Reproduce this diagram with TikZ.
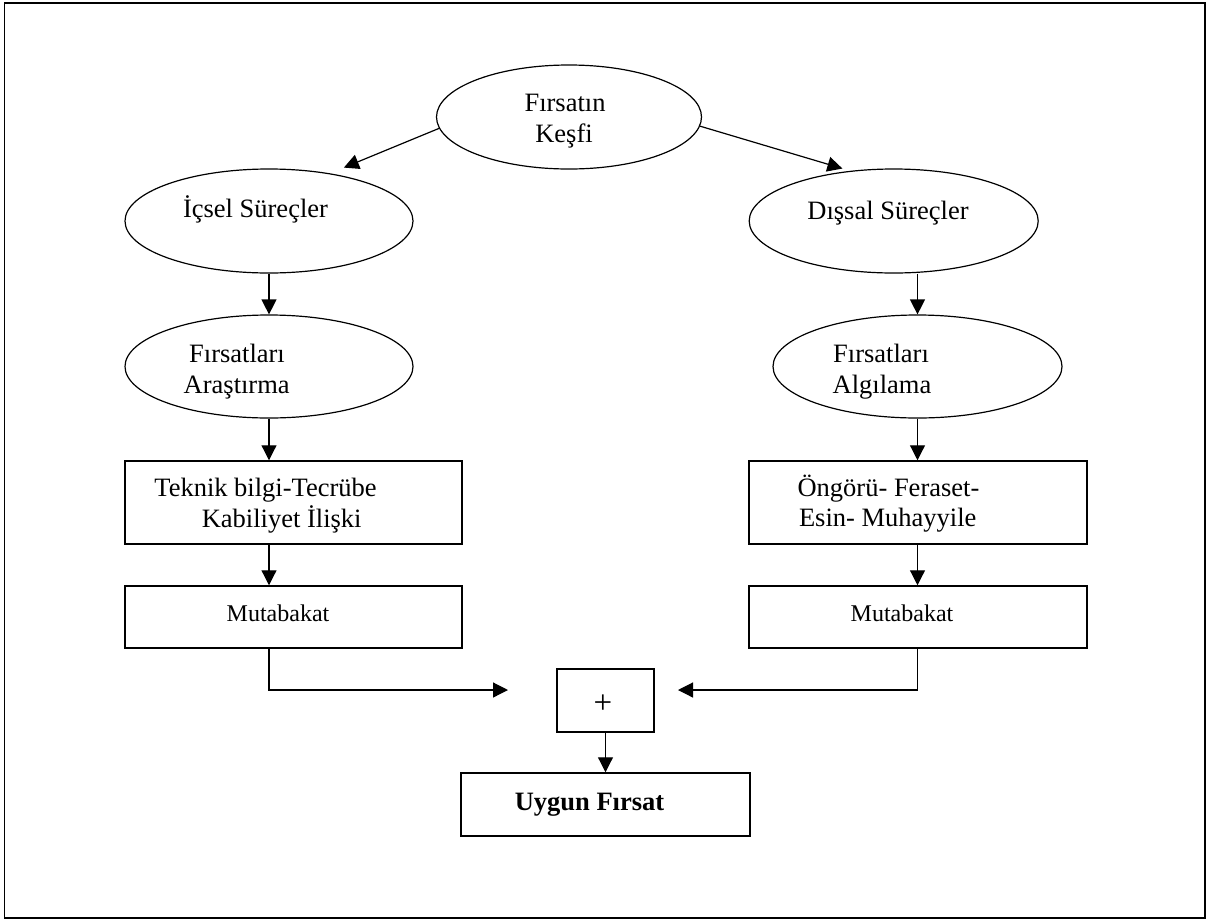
\documentclass[tikz,border=0pt]{standalone}
\usepackage{fontspec}
\setmainfont{Liberation Serif}
\usetikzlibrary{shapes.geometric,arrows.meta}
\begin{document}
\begin{tikzpicture}[x=1pt,y=-1pt,
  ell/.style={draw,ellipse,line width=1.2pt,inner sep=0pt},
  boxn/.style={draw,rectangle,line width=1.5pt,inner sep=0pt},
  txt/.style={anchor=base,inner sep=0pt,font=\fontsize{26.5}{30}\selectfont},
  smalltxt/.style={anchor=base,inner sep=0pt,font=\fontsize{24}{28}\selectfont},
  arr/.style={line width=1.2pt,-{Triangle[length=15pt,width=15pt]}}
]
\useasboundingbox (0,0) rectangle (1208,919);
\draw[line width=1.5pt] (4.5,3) rectangle (1205,918);

% shapes
\node[ell,minimum width=265pt,minimum height=104pt] (top) at (569,117) {};
\node[ell,minimum width=288pt,minimum height=104pt] (ic) at (269,221) {};
\node[ell,minimum width=289pt,minimum height=104pt] (ds) at (893.7,221) {};
\node[ell,minimum width=288pt,minimum height=103pt] (ar) at (269,366.5) {};
\node[ell,minimum width=289pt,minimum height=103pt] (al) at (917.5,366.5) {};
\node[boxn,minimum width=337pt,minimum height=83pt] (tek) at (293.5,502.5) {};
\node[boxn,minimum width=338pt,minimum height=83pt] (ong) at (918,502.5) {};
\node[boxn,minimum width=337pt,minimum height=62pt] (mutL) at (293.5,617) {};
\node[boxn,minimum width=338pt,minimum height=62pt] (mutR) at (918,617) {};
\node[boxn,minimum width=97pt,minimum height=63pt] (plus) at (605.5,700.5) {};
\node[boxn,minimum width=289pt,minimum height=63pt] (uyg) at (605.5,804.5) {};

% texts
\node[txt] (t1a) at (565,111.7) {Fırsatın};
\node[txt] (t1b) at (564,142) {Keşfi};
\node[txt] (t2) at (255.5,217.7) {İçsel Süreçler};
\node[txt] (t3) at (888,219.3) {Dışsal Süreçler};
\node[txt] (t4a) at (237,362.7) {Fırsatları};
\node[txt] (t4b) at (236.7,393.3) {Araştırma};
\node[txt,anchor=base west] (t5a) at (833,362.7) {Fırsatları};
\node[txt,anchor=base west] (t5b) at (832.5,393.3) {Algılama};
\node[txt] (t6a) at (265.5,496.7) {Teknik bilgi-Tecrübe};
\node[txt] (t6b) at (281.7,527.7) {Kabiliyet İlişki};
\node[txt,anchor=base west] (t7a) at (797.4,496.7) {Öngörü- Feraset-};
\node[txt,anchor=base west] (t7b) at (798.8,526.7) {Esin- Muhayyile};
\node[smalltxt] (t8) at (278,621.7) {Mutabakat};
\node[smalltxt] (t9) at (902,621.7) {Mutabakat};
\node[inner sep=0pt,font=\fontsize{33}{36}\selectfont] (t10) at (603,703.7) {+};
\node[txt,font=\bfseries\fontsize{26.5}{30}\selectfont] (t11) at (589.5,810) {Uygun Fırsat};

% free ends
\coordinate (jl) at (508,690);
\coordinate (jr) at (678,690);

% connectors
\draw[arr,shorten >=15pt] (top.185) -- (ic.38);
\draw[arr,shorten >=8pt] (top.356) -- (ds.131);
\draw[arr] (ic.south) -- (ar.north);
\draw[arr] (ar.south) -- (ar.south |- tek.north);
\draw[arr] (ar.south |- tek.south) -- (ar.south |- mutL.north);
\draw[arr] (ar.south |- mutL.south) |- (jl);
\draw[arr] (al.north |- ds.south) -- (al.north);
\draw[arr] (al.south) -- (al.south |- ong.north);
\draw[arr] (al.south |- ong.south) -- (al.south |- mutR.north);
\draw[arr] (al.south |- mutR.south) |- (jr);
\draw[arr] (plus.south) -- (uyg.north);
\end{tikzpicture}
\end{document}
